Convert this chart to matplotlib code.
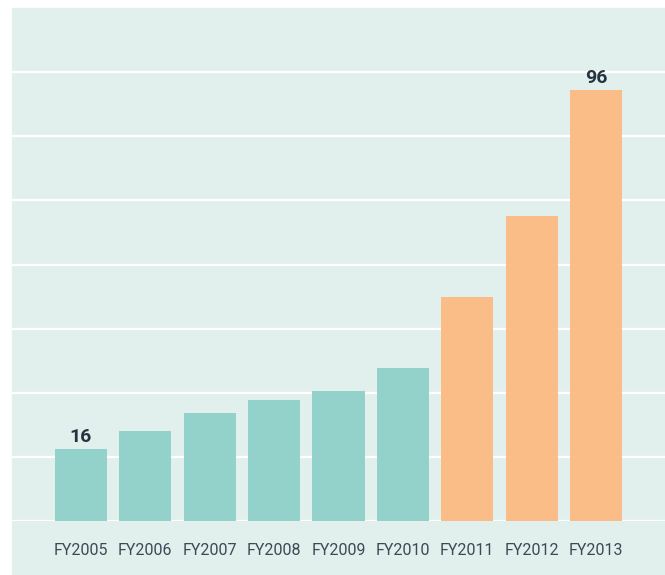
import numpy as np
import matplotlib.pyplot as plt
from matplotlib.patches import Rectangle

years = ["FY2005", "FY2006", "FY2007", "FY2008", "FY2009",
         "FY2010", "FY2011", "FY2012", "FY2013"]
values = [16, 20, 24, 27, 29, 34, 50, 68, 96]
colors = ["#93d1cb"] * 6 + ["#fbbd87"] * 3
labelled = {0: "16", 8: "96"}

bg = "#e1f0ed"
W, H = 665, 575

fig = plt.figure(figsize=(W / 100, H / 100), dpi=100)
fig.patch.set_facecolor("white")
# mint panel behind everything
fig.patches.append(Rectangle((12 / W, 0), 1 - 12 / W, (H - 8) / H,
                             transform=fig.transFigure, color=bg, zorder=-1))

ax = fig.add_axes([12 / W, (H - 521) / H, 1 - 12 / W, (521 - 8) / H])
ax.set_facecolor("none")
ax.set_zorder(1)

x = np.arange(len(years))
bars = ax.bar(x, values, width=0.81, color=colors, zorder=2)

for i, txt in labelled.items():
    ax.annotate(txt, (x[i], values[i]), xytext=(0, 2.5), textcoords="offset points",
                ha="center", va="bottom", fontsize=14, fontweight="bold",
                color="#263340", family="Roboto")

ax.set_xlim(-1.07, 9.07)
ax.set_ylim(0, 114.3)
ax.set_yticks(np.linspace(0, 100, 8))
ax.yaxis.grid(True, color="white", linewidth=1.6, zorder=1)
ax.set_axisbelow(True)
ax.tick_params(axis="y", left=False, labelleft=False)
ax.set_xticks(x)
ax.set_xticklabels(years, fontsize=11.5, color="#3d4a55", family="Roboto")
ax.tick_params(axis="x", bottom=False, pad=12)
for s in ax.spines.values():
    s.set_visible(False)

fig.savefig("out.png", dpi=100)
